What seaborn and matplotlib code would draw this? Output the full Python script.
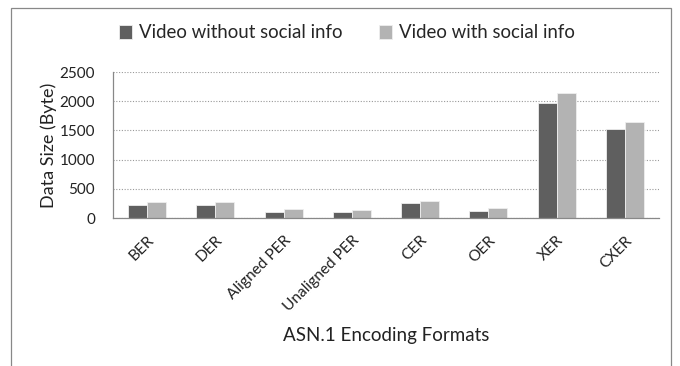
import numpy as np
import pandas as pd
import seaborn as sns
import matplotlib.pyplot as plt
from matplotlib.patches import Rectangle
from matplotlib.ticker import FixedLocator

# Values
formats = ['BER', 'DER', 'Aligned PER', 'Unaligned PER', 'CER', 'OER', 'XER', 'CXER']
without_social = [230, 230, 103, 98, 252, 120, 1964, 1519]
with_social = [275, 278, 149, 137, 298, 166, 2147, 1644]
series = ['Video without social info', 'Video with social info']
colors = ['#5f5f5f', '#b3b3b3']
y_ticks = [0, 500, 1000, 1500, 2000, 2500]

df = pd.DataFrame({
    'Format': formats * 2,
    'Size': without_social + with_social,
    'Series': [series[0]] * len(formats) + [series[1]] * len(formats),
})

sns.set_style('white')
plt.rcParams['font.family'] = ['Lato', 'DejaVu Sans']

fig = plt.figure(figsize=(6.8, 3.66), dpi=100)
ax = fig.add_axes([113 / 680, 1 - 218 / 366, (659 - 113) / 680, (218 - 72) / 366])

sns.barplot(data=df, x='Format', y='Size', hue='Series', palette=colors,
            width=0.56, gap=0, saturation=1, ax=ax, edgecolor='#eeeeee', linewidth=0.6)

# Axes styling
ax.set_xlim(-0.5, len(formats) - 0.5)
ax.set_ylim(0, 2500)
ax.set_yticks(y_ticks)
ax.set_yticklabels([str(t) for t in y_ticks], fontsize=11, color='#222222')
ax.yaxis.grid(True, linestyle=(0, (1, 1.5)), color='#999999', linewidth=0.8)
ax.set_axisbelow(True)
ax.tick_params(axis='y', length=5, width=0.8, color='#888888', direction='out', pad=8)

ax.xaxis.set_minor_locator(FixedLocator(np.arange(-0.5, len(formats), 1.0)))
ax.tick_params(axis='x', which='minor', length=4, color='#888888', width=0.8, direction='out')
ax.tick_params(axis='x', which='major', length=0, pad=11)
ax.set_xticks(range(len(formats)))
ax.set_xticklabels(formats, rotation=45, ha='right', rotation_mode='anchor',
                   fontsize=11.2, color='#222222')

for side in ['top', 'right']:
    ax.spines[side].set_visible(False)
for side in ['left', 'bottom']:
    ax.spines[side].set_color('#888888')
    ax.spines[side].set_linewidth(0.9)

ax.set_ylabel('Data Size (Byte)', fontsize=13, color='#222222', labelpad=2)
ax.set_xlabel('ASN.1 Encoding Formats', fontsize=13.5, color='#222222')
ax.xaxis.set_label_coords(0.5, -0.75)

# Legend across the top
handles, labels = ax.get_legend_handles_labels()
ax.legend_.remove()
fig.legend(handles, labels, loc='center', bbox_to_anchor=(347 / 680, 1 - 33 / 366),
           ncol=2, frameon=False, fontsize=13.4, handlelength=0.7, handleheight=0.7,
           handletextpad=0.35, columnspacing=2.0)

# Outer chart frame
fig.patches.append(Rectangle((11 / 680, -0.05), (671 - 11) / 680, 1.05 - 8 / 366,
                             transform=fig.transFigure, fill=False,
                             edgecolor='#888888', linewidth=0.9))

fig.savefig('out.png', dpi=100)
